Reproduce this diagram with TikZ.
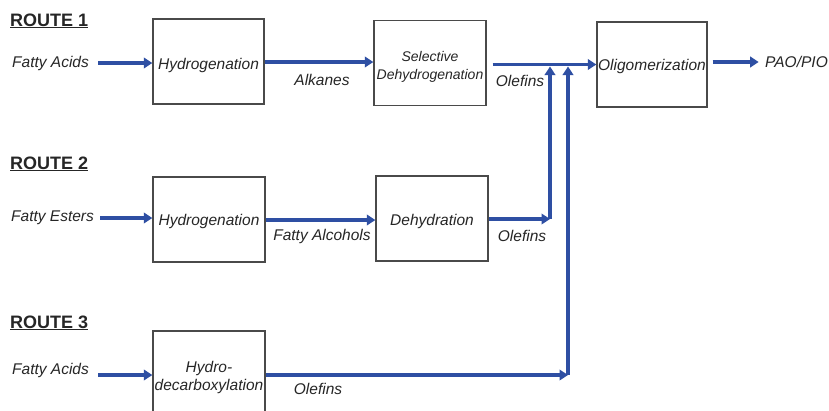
\documentclass[tikz,border=0pt]{standalone}
\usepackage{fontspec}
\setmainfont{Liberation Sans}
\usetikzlibrary{arrows.meta}
\definecolor{flowblue}{HTML}{2E4FA3}
\definecolor{txtgray}{HTML}{262626}
\definecolor{boxgray}{HTML}{4A4A4A}
\tikzset{
  procbox/.style={draw=boxgray, line width=1.3pt, minimum width=#1, minimum height=85pt, inner sep=0pt},
  procbox/.default=112pt,
  lbl/.style={text=txtgray, font=\fontsize{15.5}{18.5}\selectfont\itshape, inner sep=0pt, align=center},
  routelbl/.style={text=txtgray, font=\fontsize{18}{21}\selectfont\bfseries, inner sep=0pt, anchor=base west},
  flow/.style={draw=flowblue, line width=3.1pt, -{Triangle[length=8.5pt,width=10.5pt]}},
}
\begin{document}
\begin{tikzpicture}[x=1pt,y=-1pt]
\clip (0,0) rectangle (829,410);
\fill[white] (0,0) rectangle (829,410);

% route labels
\node[routelbl] (r1) at (10,26) {\underline{ROUTE 1}};
\node[routelbl] (r2) at (10,169) {\underline{ROUTE 2}};
\node[routelbl] (r3) at (10,328) {\underline{ROUTE 3}};

% process boxes
\node[procbox=111pt] (h1) at (208.5,61.5) {};
\node[procbox] (sd) at (430,63) {};
\node[procbox=110pt] (ol) at (652,64.5) {};
\node[procbox] (h2) at (209,219.5) {};
\node[procbox] (dh) at (432,218.5) {};
\node[procbox] (hd) at (209,373.5) {};

% box texts
\node[lbl] (h1t) at ([yshift=-4pt]h1.center) {Hydrogenation};
\node[lbl, font=\fontsize{14}{17.5}\selectfont\itshape] (sdt) at ([yshift=-4pt]sd.center) {Selective\\Dehydrogenation};
\node[lbl] (olt) at ([yshift=-1.5pt]ol.center) {Oligomerization};
\node[lbl] (h2t) at ([yshift=-1.5pt]h2.center) {Hydrogenation};
\node[lbl] (dht) at ([yshift=-2.5pt]dh.center) {Dehydration};
\node[lbl] (hdt) at ([yshift=-4pt]hd.center) {Hydro-\\decarboxylation};

% feed / product labels
\node[lbl, anchor=west] (fa1) at (12,63) {Fatty Acids};
\node[lbl, anchor=west] (fe) at (11,218) {Fatty Esters};
\node[lbl, anchor=west] (fa3) at (12,370) {Fatty Acids};
\node[lbl, anchor=west] (pao) at (765,62) {PAO/PIO};

% stream labels
\node[lbl] (alk) at (322,80) {Alkanes};
\node[lbl] (ol1) at (520,81) {Olefins};
\node[lbl] (falc) at (322,236) {Fatty Alcohols};
\node[lbl] (ol2) at (522,236) {Olefins};
\node[lbl] (ol3) at (318,389) {Olefins};

% junction coordinates
\coordinate (j2) at (550,219);
\coordinate (j3) at (568,375);

% route 1
\draw[flow] ([xshift=9pt]fa1.east) -- (fa1.east -| h1.west);
\draw[flow] ([yshift=-0.5pt]h1.east) -- ([yshift=-0.5pt]h1.east -| sd.west);
\draw[flow] ([xshift=6pt]sd.east |- ol.west) -- (ol.west);
\draw[flow] ([xshift=5pt,yshift=2.5pt]ol.east) -- ([xshift=51pt,yshift=2.5pt]ol.east);

% route 2
\draw[flow] ([xshift=6pt]fe.east) -- (fe.east -| h2.west);
\draw[flow] ([yshift=-0.5pt]h2.east) -- ([yshift=-0.5pt]h2.east -| dh.west);
\draw[flow] (dh.east |- j2) -- (j2);
\draw[flow] (j2) -- ([yshift=-2pt]j2 |- ol.west);

% route 3
\draw[flow] ([xshift=9pt,yshift=-5pt]fa3.east) -- ([yshift=-5pt]fa3.east -| hd.west);
\draw[flow] (hd.east |- j3) -- (j3);
\draw[flow] (j3) -- ([yshift=-2pt]j3 |- ol.west);
\end{tikzpicture}
\end{document}
